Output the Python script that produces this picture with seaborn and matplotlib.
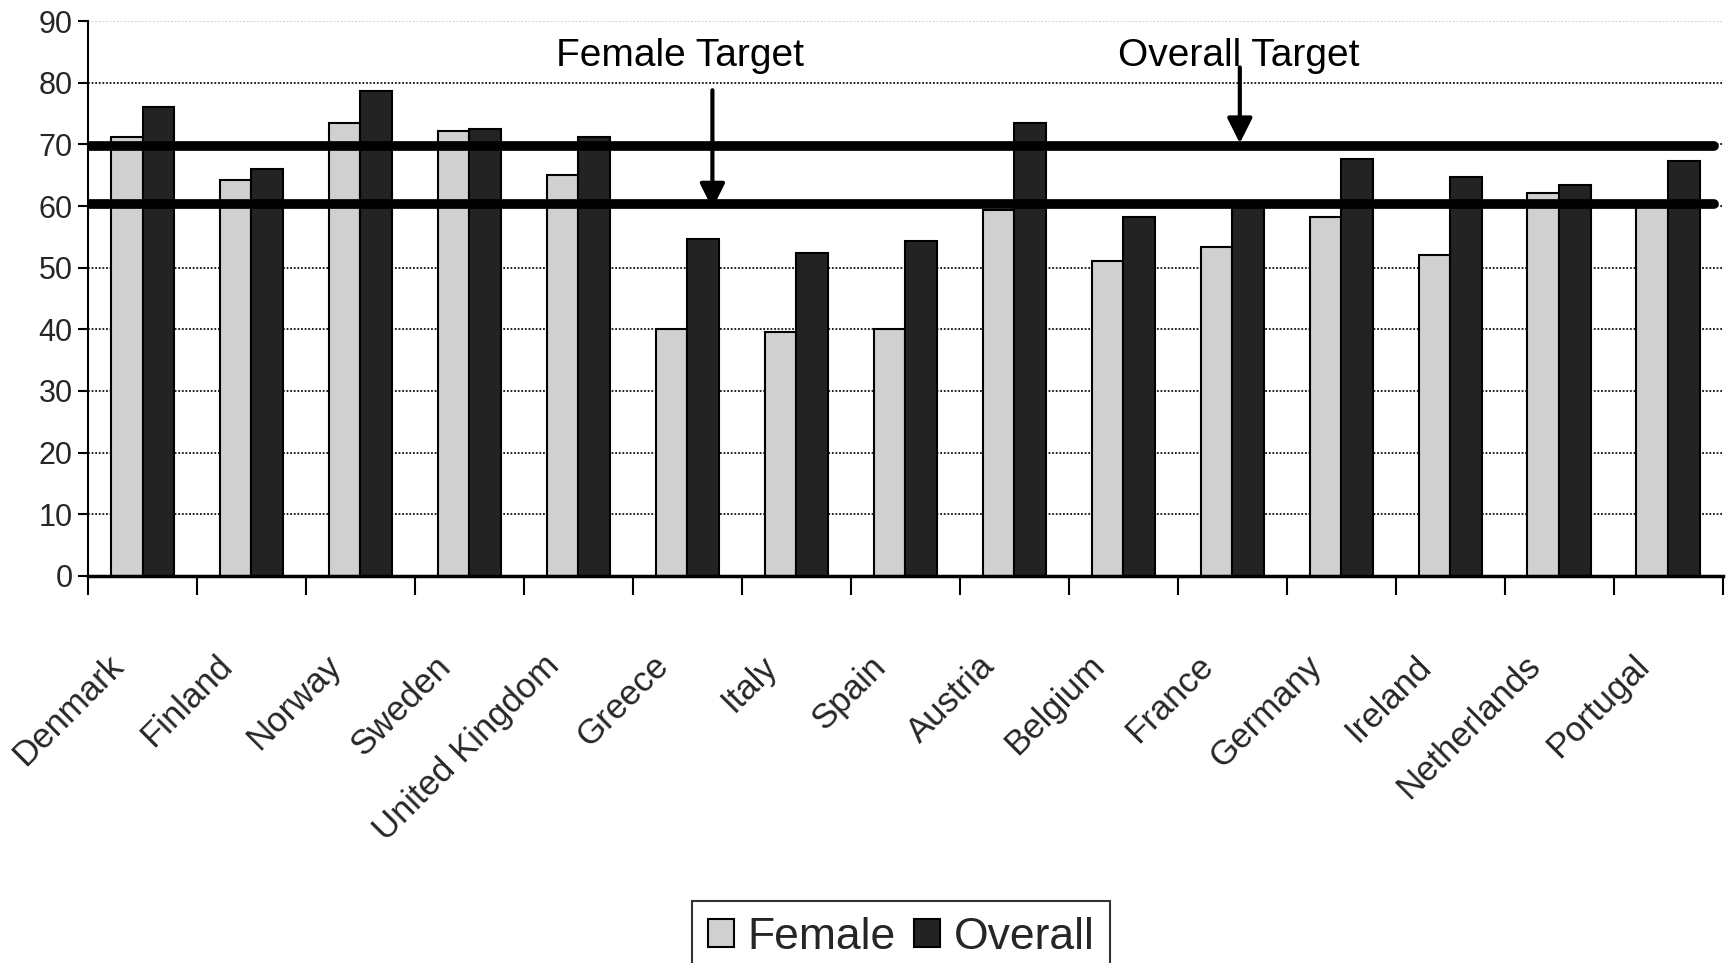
import matplotlib
matplotlib.use('Agg')
import matplotlib.pyplot as plt
import matplotlib.transforms as mtransforms
from matplotlib import font_manager
import seaborn as sns
import pandas as pd

countries = ['Denmark', 'Finland', 'Norway', 'Sweden', 'United Kingdom', 'Greece',
             'Italy', 'Spain', 'Austria', 'Belgium', 'France', 'Germany', 'Ireland',
             'Netherlands', 'Portugal']
female = [71.2, 64.3, 73.4, 72.2, 65.0, 40.0, 39.6, 40.0, 59.4, 51.1, 53.4, 58.2, 52.0, 62.1, 60.1]
overall = [76.1, 66.0, 78.7, 72.5, 71.2, 54.7, 52.4, 54.3, 73.5, 58.2, 60.8, 67.6, 64.7, 63.4, 67.3]
series = ['Female', 'Overall']
colors = ['#D0D0D0', '#232323']

# hand-drawn target lines and their callouts
target_labels = ['Female Target', 'Overall Target']
target_values = [60.4, 69.8]
label_x = [4.93, 10.06]
label_y = [84.4, 84.4]
arrow_x = [5.23, 10.07]
arrow_top = [78.8, 82.5]
arrow_tip = [59.6, 70.2]

sns.set_theme(style='white')
installed = {f.name for f in font_manager.fontManager.ttflist}
family = 'Liberation Sans Narrow' if 'Liberation Sans Narrow' in installed else 'Liberation Sans'
plt.rcParams['font.family'] = [family, 'DejaVu Sans']

df = pd.DataFrame({
    'Country': countries * 2,
    'Value': female + overall,
    'Series': [series[0]] * len(countries) + [series[1]] * len(countries),
})

fig = plt.figure(figsize=(17.26, 9.63), dpi=100)
ax = fig.add_axes([0.051, 0.402, 0.947, 0.576])

sns.barplot(data=df, x='Country', y='Value', hue='Series', palette=colors,
            width=0.58, gap=0, edgecolor='black', linewidth=1.5, ax=ax, legend=True)

ax.set_ylim(0, 90)
ax.set_xlim(-0.5, len(countries) - 0.5)
ax.set_yticks(range(0, 91, 10))
ax.set_xlabel('')
ax.set_ylabel('')

# gridlines: dotted, top one light grey
ax.set_axisbelow(True)
ax.yaxis.grid(True, linestyle=(0, (1, 1)), color='#111111', linewidth=1.3)
ax.yaxis.get_gridlines()[-1].set_color('#cccccc')

for side in ['top', 'right']:
    ax.spines[side].set_visible(False)
ax.spines['left'].set_color('black')
ax.spines['left'].set_linewidth(1.5)
ax.spines['bottom'].set_color('black')
ax.spines['bottom'].set_linewidth(2.5)

ax.tick_params(axis='y', left=True, length=7, width=1.5, color='black', labelsize=22, pad=4)
ax.set_xticks([i - 0.5 for i in range(len(countries) + 1)], minor=True)
ax.tick_params(axis='x', which='minor', bottom=True, length=14, width=1.5, color='black')
ax.tick_params(axis='x', which='major', bottom=False, length=0, pad=50, labelsize=25)
ax.set_xticks(range(len(countries)))
ax.set_xticklabels(countries, rotation=45, ha='right', rotation_mode='anchor')
shift = mtransforms.ScaledTranslation(-0.36, -0.04, fig.dpi_scale_trans)
for lbl in ax.get_xticklabels():
    lbl.set_transform(lbl.get_transform() + shift)

# target lines
lines = ax.hlines(target_values, -0.5, 14.42, colors='black', linewidth=7, zorder=5)
lines.set_capstyle('round')

for i in range(len(target_labels)):
    ax.text(label_x[i], label_y[i], target_labels[i], ha='center', va='center',
            fontsize=28, color='black', zorder=6)
    ax.annotate('', xy=(arrow_x[i], arrow_tip[i]), xytext=(arrow_x[i], arrow_top[i]),
                arrowprops=dict(arrowstyle='-|>', color='black', lw=3, mutation_scale=38,
                                shrinkA=0, shrinkB=0), zorder=6)

ax.get_legend().remove()
handles, labels = ax.get_legend_handles_labels()
leg = fig.legend(handles[:2], labels[:2], loc='upper center', bbox_to_anchor=(0.522, 0.064),
                 ncol=2, frameon=True, fontsize=32, handlelength=0.6, handleheight=0.6,
                 handletextpad=0.3, columnspacing=0.4, borderpad=0.35, borderaxespad=0,
                 fancybox=False)
leg.get_frame().set_edgecolor('black')
leg.get_frame().set_linewidth(1.5)

plt.savefig('out.png', dpi=100, facecolor='white')
plt.close()
